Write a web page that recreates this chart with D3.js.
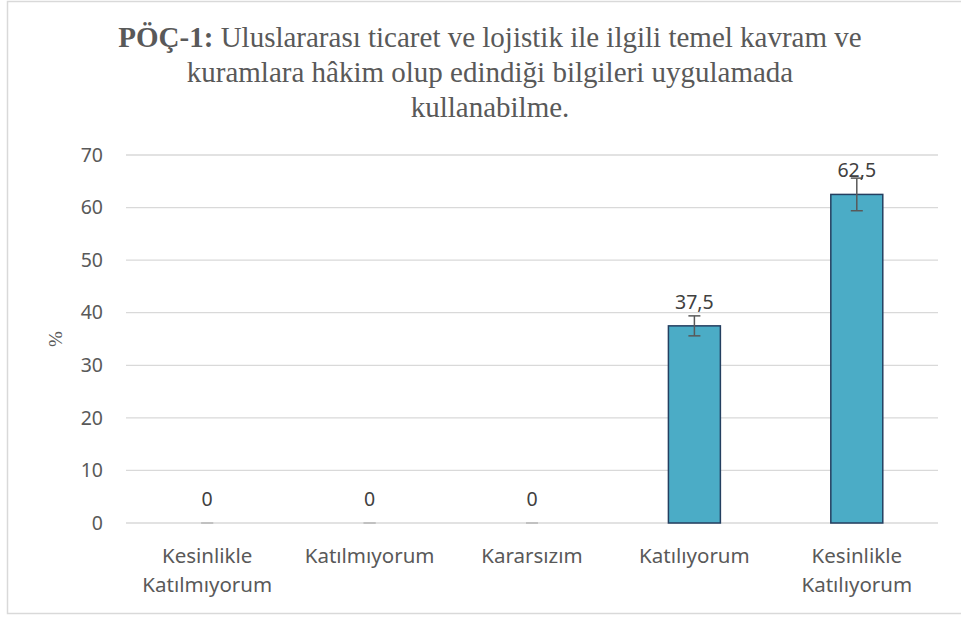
<!DOCTYPE html>
<html>
<head>
<meta charset="utf-8">
<script src="https://cdn.jsdelivr.net/npm/d3@7"></script>
<style>
    html, body { margin: 0; padding: 0; background: #fff; }
    svg text { font-family: "Noto Sans", "Open Sans", sans-serif; }
</style>
</head>
<body>
<div id="chart"></div>
<script>
// Chart data
const categories = ['Kesinlikle Katılmıyorum', 'Katılmıyorum', 'Kararsızım', 'Katılıyorum', 'Kesinlikle Katılıyorum'];
const categoryLines = [['Kesinlikle', 'Katılmıyorum'], ['Katılmıyorum'], ['Kararsızım'], ['Katılıyorum'], ['Kesinlikle', 'Katılıyorum']];
const values = [0, 0, 0, 37.5, 62.5];
const errors = [0, 0, 0, 1.9, 3.1];
const yTicks = [0, 10, 20, 30, 40, 50, 60, 70];
const titleLines = [
    { bold: 'PÖÇ-1:', rest: ' Uluslararası ticaret ve lojistik ile ilgili temel kavram ve' },
    { bold: '', rest: 'kuramlara hâkim olup edindiği bilgileri uygulamada' },
    { bold: '', rest: 'kullanabilme.' }
];

const W = 961, H = 617;
const margin = { top: 155, right: 23, bottom: 94, left: 126 };
const width = W - margin.left - margin.right;
const height = H - margin.top - margin.bottom;

const svg = d3.select('#chart')
    .append('svg')
    .attr('width', W)
    .attr('height', H);

// Outer chart border
svg.append('rect')
    .attr('x', 7.5).attr('y', 1.5)
    .attr('width', W).attr('height', 612)
    .attr('fill', 'none')
    .attr('stroke', '#d9d9d9')
    .attr('stroke-width', 1.5);

// Title
const title = svg.append('text')
    .attr('text-anchor', 'middle')
    .attr('fill', '#595959')
    .style('font-family', '"Liberation Serif", "Times New Roman", serif')
    .style('font-size', '29px');

titleLines.forEach((l, i) => {
    const t = title.append('tspan')
        .attr('x', 490)
        .attr('y', 47 + i * 35);
    if (l.bold) t.append('tspan').attr('font-weight', 'bold').text(l.bold);
    t.append('tspan').text(l.rest);
});

const g = svg.append('g')
    .attr('transform', `translate(${margin.left},${margin.top})`);

const x = d3.scaleBand()
    .domain(categories)
    .range([0, width])
    .paddingInner(0.68)
    .paddingOuter(0.34);

const y = d3.scaleLinear()
    .domain([0, 70])
    .range([height, 0]);

// Grid
g.append('g')
    .selectAll('line')
    .data(yTicks)
    .enter().append('line')
    .attr('x1', 0).attr('x2', width)
    .attr('y1', d => y(d)).attr('y2', d => y(d))
    .attr('stroke', '#d9d9d9')
    .attr('stroke-width', 1.3);

// Y axis labels
g.append('g')
    .attr('class', 'y-axis')
    .call(d3.axisLeft(y).tickValues(yTicks).tickSize(0).tickPadding(23))
    .call(a => a.select('.domain').remove())
    .selectAll('text')
    .attr('fill', '#595959')
    .style('font-size', '19.5px');

// Y axis title
svg.append('text')
    .attr('transform', `translate(58,${margin.top + height / 2}) rotate(-90)`)
    .attr('text-anchor', 'middle')
    .attr('dominant-baseline', 'middle')
    .attr('fill', '#595959')
    .style('font-family', '"Liberation Serif", "Times New Roman", serif')
    .style('font-size', '19px')
    .text('%');

// Bars
g.selectAll('.bar')
    .data(values)
    .enter().append('rect')
    .attr('class', 'bar')
    .attr('x', (d, i) => x(categories[i]))
    .attr('y', d => y(d))
    .attr('width', x.bandwidth())
    .attr('height', d => height - y(d))
    .attr('fill', '#4bacc6')
    .attr('stroke', d => d > 0 ? '#243f60' : 'none')
    .attr('stroke-width', 1.5);

// Error bars
const eb = g.selectAll('.err')
    .data(values)
    .enter().append('g')
    .attr('class', 'err')
    .attr('stroke', (d, i) => errors[i] > 0 ? '#595959' : '#bfbfbf')
    .attr('stroke-width', 1.5);

eb.append('line')
    .attr('x1', (d, i) => x(categories[i]) + x.bandwidth() / 2)
    .attr('x2', (d, i) => x(categories[i]) + x.bandwidth() / 2)
    .attr('y1', (d, i) => y(d + errors[i]))
    .attr('y2', (d, i) => y(d - errors[i]));

[1, -1].forEach(s => {
    eb.append('line')
        .attr('x1', (d, i) => x(categories[i]) + x.bandwidth() / 2 - 6)
        .attr('x2', (d, i) => x(categories[i]) + x.bandwidth() / 2 + 6)
        .attr('y1', (d, i) => y(d + s * errors[i]))
        .attr('y2', (d, i) => y(d + s * errors[i]));
});

// Data labels
g.selectAll('.label')
    .data(values)
    .enter().append('text')
    .attr('class', 'label')
    .attr('x', (d, i) => x(categories[i]) + x.bandwidth() / 2)
    .attr('y', d => y(d) - 17)
    .attr('text-anchor', 'middle')
    .attr('fill', '#404040')
    .style('font-size', '19.5px')
    .text(d => String(d).replace('.', ','));

// X axis labels
const xl = g.append('g')
    .selectAll('text')
    .data(categoryLines)
    .enter().append('text')
    .attr('x', (d, i) => x(categories[i]) + x.bandwidth() / 2)
    .attr('y', height + 40)
    .attr('text-anchor', 'middle')
    .attr('fill', '#595959')
    .style('font-size', '20.5px');

xl.selectAll('tspan')
    .data(d => d)
    .enter().append('tspan')
    .attr('x', function () { return d3.select(this.parentNode).attr('x'); })
    .attr('dy', (d, i) => i === 0 ? 0 : 29)
    .text(d => d);
</script>
</body>
</html>
